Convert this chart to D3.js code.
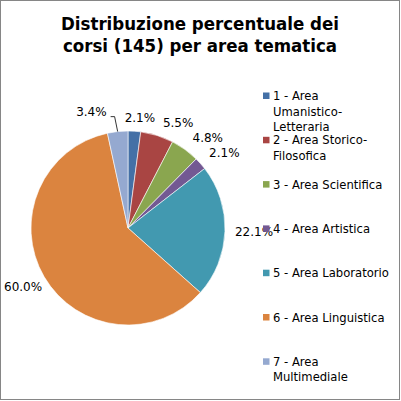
<!DOCTYPE html>
<html>
<head>
<meta charset="utf-8">
<script src="https://cdn.jsdelivr.net/npm/d3@7"></script>
<style>
  body { margin: 0; background: #fff; }
</style>
</head>
<body>
<svg id="chart"></svg>
<script>
const categories = [
  "1 - Area Umanistico-Letteraria",
  "2 - Area Storico-Filosofica",
  "3 - Area Scientifica",
  "4 - Area Artistica",
  "5 - Area Laboratorio",
  "6 - Area Linguistica",
  "7 - Area Multimediale"
];
const percentages = [2.1, 5.5, 4.8, 2.1, 22.1, 60.0, 3.4];
const colors = ["#4470A6", "#A94543", "#8AA64F", "#735993", "#4299B0", "#DB843F", "#95A9D0"];
const titleLines = ["Distribuzione percentuale dei", "corsi (145) per area tematica"];

const W = 401, H = 401;
const cx = 128, cy = 228, r = 97;

const svg = d3.select("#chart").attr("width", W).attr("height", H);

svg.append("rect")
  .attr("x", 0.5).attr("y", 0.5)
  .attr("width", W - 2).attr("height", H - 2)
  .attr("fill", "#fff").attr("stroke", "#868686");

// title
svg.append("g")
  .selectAll("text")
  .data(titleLines)
  .enter()
  .append("text")
  .attr("x", 200)
  .attr("y", (d, i) => 30 + i * 22)
  .attr("text-anchor", "middle")
  .attr("font-family", "'DejaVu Sans Condensed', 'DejaVu Sans', sans-serif")
  .attr("font-weight", "bold")
  .attr("font-size", "18.5px")
  .attr("fill", "#000")
  .text((d) => d);

const data = percentages.map((v, i) => ({ name: categories[i], value: v, color: colors[i] }));

const pie = d3.pie().value((d) => d.value).sort(null);
const arc = d3.arc().innerRadius(0).outerRadius(r);
const arcs = pie(data);

const g = svg.append("g").attr("transform", "translate(" + cx + "," + cy + ")");

g.selectAll("path")
  .data(arcs)
  .enter()
  .append("path")
  .attr("d", arc)
  .attr("fill", (d) => d.data.color)
  .attr("stroke", "#fff")
  .attr("stroke-width", 0.6);

// data labels, outside end, pushed away when they collide
const labelFont = "'DejaVu Sans', sans-serif";
const placed = [];
const labels = g.append("g");
const fmt = d3.format(".1f");
const pad = 4;

arcs.forEach(function (d) {
  const mid = (d.startAngle + d.endAngle) / 2;
  const sx = Math.sin(mid), sy = -Math.cos(mid);
  const t = labels.append("text")
    .attr("font-family", labelFont)
    .attr("font-size", "12px")
    .attr("fill", "#000")
    .attr("text-anchor", "middle")
    .attr("dy", "0.35em")
    .text(fmt(d.data.value) + "%");
  const w = t.node().getComputedTextLength(), h = 14;
  const bw = w + 2 * pad;
  const clamp = (v) => Math.max(-1, Math.min(1, v));
  let R = r + 6;
  let x = R * sx + (bw / 2) * clamp(sx * 4);
  let y = R * sy + (h / 2) * clamp(sy * 3);
  // keep inside the chart area
  x = Math.max(4 + w / 2 - cx, x);
  const hit = placed.find((b) =>
    Math.abs(b.x - x) < (b.w + w) / 2 + 2 && Math.abs(b.y - y) < (b.h + h) / 2);
  let leader = false;
  if (hit) {
    R = r + 13;
    y = R * sy + (h / 2) * clamp(sy * 3);
    x = sx < 0 ? hit.x - hit.w / 2 - 18 - w / 2 : hit.x + hit.w / 2 + 18 + w / 2;
    leader = true;
  }
  t.attr("x", x).attr("y", y);
  placed.push({ x: x, y: y, w: w, h: h });
  if (leader) {
    const side = sx < 0 ? 1 : -1;
    const x0 = x + side * (w / 2 + 4), y0 = y + 5;
    labels.append("path")
      .attr("d", d3.line()([[x0, y0], [x0 + side * 4, y0], [r * sx, r * sy]]))
      .attr("fill", "none")
      .attr("stroke", "#000")
      .attr("stroke-width", 0.8);
  }
});

// legend
const legendFont = "'DejaVu Sans', sans-serif";
const legend = svg.append("g").attr("transform", "translate(263,0)");
const maxW = 117;

data.forEach(function (d, i) {
  const top = 96 + i * 44.3;
  const item = legend.append("g");
  item.append("rect")
    .attr("x", 0).attr("y", top - 3.5)
    .attr("width", 6.5).attr("height", 6.5)
    .attr("fill", d.color);
  const t = item.append("text")
    .attr("font-family", legendFont)
    .attr("font-size", "11.6px")
    .attr("fill", "#000");
  // wrap on spaces and after hyphens
  const tokens = d.name.match(/[^ -]+-?|\s+|-/g);
  const lines = [];
  let cur = "";
  const probe = t.append("tspan");
  tokens.forEach(function (tok) {
    const test = cur + tok;
    probe.text(test.trimEnd());
    if (cur.trim() && probe.node().getComputedTextLength() > maxW) {
      lines.push(cur.trimEnd());
      cur = tok.trimStart();
    } else {
      cur = test;
    }
  });
  lines.push(cur.trimEnd());
  probe.remove();
  lines.forEach(function (ln, j) {
    t.append("tspan")
      .attr("x", 10)
      .attr("y", top + j * 15.5)
      .attr("dy", "0.35em")
      .text(ln);
  });
});
</script>
</body>
</html>
